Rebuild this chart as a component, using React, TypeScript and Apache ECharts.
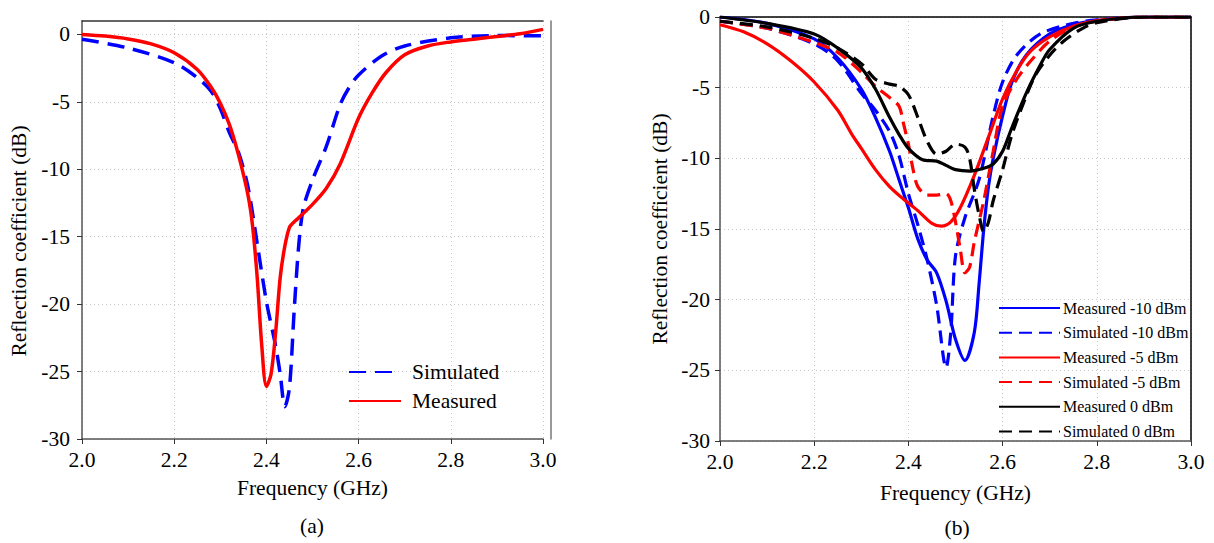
import React, { useEffect, useRef } from "react";
import * as echarts from "echarts";

// ---------- Data (a) ----------
const aMeasFreq = [2.0, 2.05, 2.1, 2.15, 2.2, 2.25, 2.28, 2.3, 2.32, 2.34, 2.36, 2.37, 2.38, 2.39, 2.4, 2.41, 2.42, 2.43, 2.44, 2.45, 2.46, 2.47, 2.5, 2.53, 2.56, 2.6, 2.63, 2.66, 2.7, 2.75, 2.8, 2.85, 2.9, 2.95, 3.0];
const aMeasDb = [0, -0.12, -0.33, -0.7, -1.36, -2.6, -3.9, -5.1, -6.7, -9.0, -11.9, -14.2, -18, -23.1, -26.1, -25.2, -22.1, -18, -15.7, -14.3, -13.9, -13.6, -12.6, -11.4, -9.6, -6.2, -4.3, -2.8, -1.5, -0.85, -0.55, -0.35, -0.15, 0.05, 0.38];
const aSimFreq = [2.0, 2.1, 2.2, 2.25, 2.28, 2.3, 2.32, 2.34, 2.36, 2.38, 2.4, 2.42, 2.43, 2.44, 2.45, 2.46, 2.47, 2.48, 2.5, 2.53, 2.56, 2.58, 2.6, 2.65, 2.7, 2.8, 2.9, 3.0];
const aSimDb = [-0.35, -1.0, -2.1, -3.2, -4.2, -5.5, -7.3, -8.8, -11.3, -15.5, -19.8, -23.1, -25.2, -27.6, -26.2, -20.6, -15.7, -12.9, -10.8, -8.3, -5.2, -3.9, -3.0, -1.6, -0.85, -0.25, -0.08, -0.1];

// ---------- Data (b) ----------
const bMeas10Freq = [2.0, 2.1, 2.2, 2.25, 2.3, 2.33, 2.36, 2.38, 2.4, 2.42, 2.44, 2.46, 2.48, 2.5, 2.52, 2.54, 2.55, 2.56, 2.57, 2.58, 2.6, 2.62, 2.65, 2.7, 2.75, 2.8, 2.9, 3.0];
const bMeas10Db = [0, -0.45, -1.55, -2.9, -5.1, -7.1, -9.5, -11.5, -13.5, -15.7, -17.2, -18.1, -20.1, -22.8, -24.3, -22.3, -18.9, -15.0, -12.0, -10.0, -7.0, -4.6, -2.7, -1.2, -0.55, -0.25, 0, 0];
const bSim10Freq = [2.0, 2.1, 2.2, 2.25, 2.3, 2.33, 2.36, 2.38, 2.4, 2.42, 2.44, 2.46, 2.48, 2.49, 2.5, 2.52, 2.55, 2.58, 2.6, 2.63, 2.68, 2.75, 2.8, 2.9, 3.0];
const bSim10Db = [-0.3, -0.8, -1.9, -3.1, -5.4, -6.6, -8.1, -9.8, -12.5, -14.7, -17.2, -20.4, -24.8, -22.3, -16.9, -14.2, -11.5, -7.0, -4.6, -2.7, -1.2, -0.45, -0.2, 0, 0];
const bMeas5Freq = [2.0, 2.05, 2.1, 2.15, 2.2, 2.25, 2.28, 2.3, 2.33, 2.36, 2.39, 2.42, 2.45, 2.47, 2.49, 2.51, 2.54, 2.57, 2.6, 2.63, 2.66, 2.7, 2.75, 2.8, 2.9, 3.0];
const bMeas5Db = [-0.55, -1.05, -1.9, -3.1, -4.6, -6.6, -8.3, -9.3, -10.8, -12.0, -12.9, -13.7, -14.6, -14.8, -14.5, -13.5, -11.2, -8.5, -5.8, -3.8, -2.4, -1.4, -0.65, -0.25, 0, 0];
const bSim5Freq = [2.0, 2.1, 2.2, 2.25, 2.3, 2.33, 2.36, 2.38, 2.39, 2.4, 2.41, 2.42, 2.44, 2.46, 2.48, 2.49, 2.5, 2.51, 2.52, 2.53, 2.54, 2.56, 2.58, 2.6, 2.63, 2.66, 2.7, 2.75, 2.8, 2.9, 3.0];
const bSim5Db = [-0.3, -0.8, -1.8, -2.5, -3.9, -4.9, -5.7, -6.3, -7.6, -9.0, -10.8, -12.0, -12.6, -12.6, -12.5, -13.0, -14.5, -16.4, -18.1, -17.7, -15.9, -13.0, -9.5, -6.3, -4.4, -3.1, -1.7, -0.7, -0.3, 0, 0];
const bMeas0Freq = [2.0, 2.1, 2.2, 2.25, 2.3, 2.33, 2.36, 2.38, 2.4, 2.43, 2.46, 2.48, 2.5, 2.53, 2.56, 2.58, 2.6, 2.62, 2.65, 2.68, 2.7, 2.75, 2.8, 2.9, 3.0];
const bMeas0Db = [0, -0.45, -1.2, -2.2, -3.6, -5.1, -7.1, -8.3, -9.3, -10.1, -10.2, -10.5, -10.8, -10.9, -10.7, -10.4, -9.5, -7.8, -5.4, -3.4, -2.3, -0.8, -0.3, 0, 0];
const bSim0Freq = [2.0, 2.1, 2.2, 2.25, 2.3, 2.33, 2.36, 2.38, 2.4, 2.42, 2.44, 2.46, 2.48, 2.5, 2.52, 2.53, 2.54, 2.55, 2.56, 2.57, 2.58, 2.6, 2.62, 2.65, 2.67, 2.7, 2.73, 2.77, 2.8, 2.9, 3.0];
const bSim0Db = [-0.3, -0.7, -1.5, -2.2, -3.3, -4.4, -4.75, -4.9, -5.5, -7.1, -8.8, -9.7, -9.5, -9.0, -9.2, -10.0, -12.2, -14.0, -15.2, -14.5, -13.0, -10.8, -8.3, -5.6, -4.1, -2.7, -1.7, -0.8, -0.4, 0, 0];

const yTicks = [0, -5, -10, -15, -20, -25, -30];
const xTitle = "Frequency (GHz)";
const yTitle = "Reflection coefficient (dB)";

const zip = (xs: number[], ys: number[]) => xs.map((x, i) => [x, ys[i]]);

const FONT = "Liberation Serif";
const FS = 21.5;

export default function App() {
  const ref = useRef<HTMLDivElement>(null);
  useEffect(() => {
    if (!ref.current) return;
    const chart = echarts.init(ref.current, undefined, { renderer: "svg" });
    const axisColor = "#555";
    const gridLine = { show: true, lineStyle: { color: "#c8c8c8", type: [1, 3], width: 1 } };
    const mainX = (gridIndex: number, nameGap: number) => ({
      type: "value",
      gridIndex,
      position: "bottom",
      min: 2,
      max: 3,
      interval: 0.2,
      name: xTitle,
      nameLocation: "middle",
      nameGap,
      nameTextStyle: { fontFamily: FONT, fontSize: FS, color: "#000" },
      axisLine: { show: true, onZero: false, lineStyle: { color: axisColor, width: 1.5 } },
      axisTick: { show: true, inside: false, length: 5, lineStyle: { color: "#333" } },
      axisLabel: {
        margin: 10,
        fontFamily: FONT,
        fontSize: FS,
        color: "#000",
        formatter: (v: number) => v.toFixed(1),
      },
      splitLine: gridLine,
    });
    const frameX = (gridIndex: number, color: string) => ({
      type: "value",
      gridIndex,
      position: "top",
      min: 2,
      max: 3,
      axisLine: { show: true, onZero: false, lineStyle: { color, width: 1.5 } },
      axisTick: { show: false },
      axisLabel: { show: false },
      splitLine: { show: false },
    });
    const mainY = (gridIndex: number, max: number, nameGap: number, margin: number, namePad: number[]) => ({
      type: "value",
      gridIndex,
      position: "left",
      min: -30,
      max,
      interval: 5,
      name: yTitle,
      nameLocation: "middle",
      nameGap,
      nameTextStyle: { fontFamily: FONT, fontSize: FS, color: "#000", padding: namePad },
      axisLine: { show: true, onZero: false, lineStyle: { color: axisColor, width: 1.5 } },
      axisTick: { show: true, length: 5, customValues: yTicks, lineStyle: { color: "#333" } },
      axisLabel: {
        margin,
        fontFamily: FONT,
        fontSize: FS,
        color: "#000",
        customValues: yTicks,
      },
      splitLine: gridLine,
    });
    const frameY = (gridIndex: number, max: number, offset: number, color: string) => ({
      type: "value",
      gridIndex,
      position: "right",
      offset,
      min: -30,
      max,
      axisLine: { show: true, onZero: false, lineStyle: { color, width: 1.5 } },
      axisTick: { show: false },
      axisLabel: { show: false },
      splitLine: { show: false },
    });
    const line = (
      name: string,
      data: number[][],
      color: string,
      dashed: number[] | null,
      xAxisIndex: number,
      yAxisIndex: number,
      width: number
    ) => ({
      name,
      type: "line",
      xAxisIndex,
      yAxisIndex,
      data,
      smooth: 0.3,
      symbol: "none",
      showSymbol: false,
      lineStyle: { color, width, type: dashed ? dashed : "solid" },
      itemStyle: { color },
      z: 3,
    });

    const option: any = {
      animation: false,
      backgroundColor: "#fff",
      textStyle: { fontFamily: FONT, color: "#000" },
      grid: [
        { left: 82, top: 21, width: 461, height: 418 },
        { left: 720, top: 17, width: 471, height: 424 },
      ],
      xAxis: [mainX(0, 38), frameX(0, "#333"), mainX(1, 41), frameX(1, "#000")],
      yAxis: [
        mainY(0, 1, 52, 12, [0, 22, 0, 0]),
        frameY(0, 1, 8, "#777"),
        mainY(1, 0, 49, 10, [0, 0, 0, 0]),
        frameY(1, 0, 0, "#000"),
      ],
      legend: [
        {
          data: ["Simulated", "Measured"],
          orient: "vertical",
          left: 343,
          top: 356,
          itemWidth: 52,
          itemHeight: 14,
          itemGap: 7,
          itemStyle: { opacity: 0 },
          textStyle: { fontFamily: FONT, fontSize: FS, color: "#000", padding: [0, 0, 0, 6] },
        },
        {
          data: [
            "Measured -10 dBm",
            "Simulated -10 dBm",
            "Measured -5 dBm",
            "Simulated -5 dBm",
            "Measured 0 dBm",
            "Simulated 0 dBm",
          ],
          orient: "vertical",
          left: 993,
          top: 295,
          itemWidth: 61,
          itemHeight: 14,
          itemGap: 8.7,
          itemStyle: { opacity: 0 },
          textStyle: { fontFamily: FONT, fontSize: 16, color: "#000", padding: [0, 0, 0, -2] },
        },
      ],
      graphic: [
        {
          type: "text",
          x: 312,
          y: 526,
          style: { text: "(a)", fontFamily: FONT, fontSize: FS, fill: "#000", align: "center", verticalAlign: "middle" },
        },
        {
          type: "text",
          x: 957,
          y: 528,
          style: { text: "(b)", fontFamily: FONT, fontSize: FS, fill: "#000", align: "center", verticalAlign: "middle" },
        },
      ],
      series: [
        line("Simulated", zip(aSimFreq, aSimDb), "#0000ff", [17, 9], 0, 0, 3.5),
        line("Measured", zip(aMeasFreq, aMeasDb), "#ff0000", null, 0, 0, 3.5),
        line("Measured -10 dBm", zip(bMeas10Freq, bMeas10Db), "#0000ff", null, 2, 2, 3.2),
        line("Simulated -10 dBm", zip(bSim10Freq, bSim10Db), "#0000ff", [13, 7], 2, 2, 3.2),
        line("Measured -5 dBm", zip(bMeas5Freq, bMeas5Db), "#ff0000", null, 2, 2, 3.2),
        line("Simulated -5 dBm", zip(bSim5Freq, bSim5Db), "#ff0000", [13, 7], 2, 2, 3.2),
        line("Measured 0 dBm", zip(bMeas0Freq, bMeas0Db), "#000000", null, 2, 2, 3.2),
        line("Simulated 0 dBm", zip(bSim0Freq, bSim0Db), "#000000", [13, 7], 2, 2, 3.2),
      ],
    };
    chart.setOption(option);
    return () => chart.dispose();
  }, []);
  return (
    <div
      ref={ref}
      style={{ position: "absolute", left: 0, top: 0, width: 1214, height: 543 }}
    />
  );
}
